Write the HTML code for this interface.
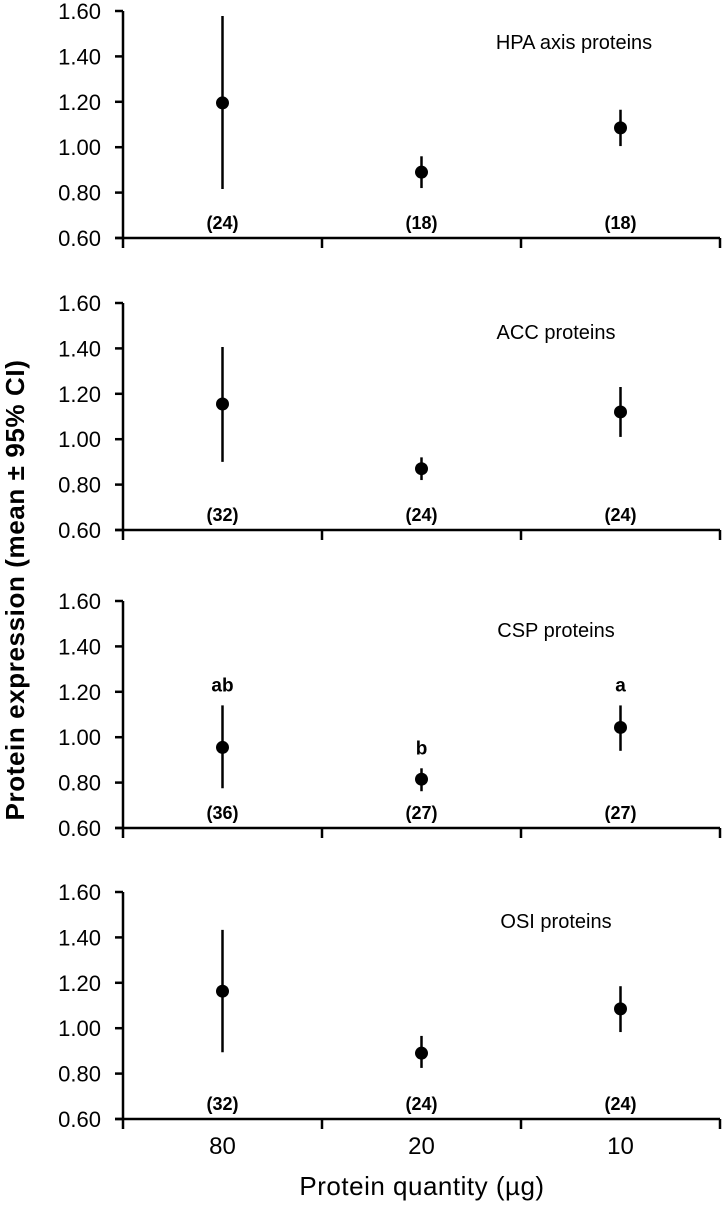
<!DOCTYPE html>
<html><head><meta charset="utf-8"><style>
html,body{margin:0;padding:0;background:#fff;}
svg{display:block;font-family:"Liberation Sans",sans-serif;}
</style></head><body>
<svg id="chart" width="722" height="1206" viewBox="0 0 722 1206"></svg>
<script>
const categories = ["80","20","10"];
const panelTitles = ["HPA axis proteins","ACC proteins","CSP proteins","OSI proteins"];
const means = [[1.195,0.89,1.085],[1.155,0.87,1.12],[0.955,0.815,1.043],[1.163,0.89,1.085]];
const lowers = [[0.816,0.82,1.005],[0.90,0.82,1.01],[0.775,0.762,0.94],[0.894,0.825,0.983]];
const uppers = [[1.578,0.96,1.165],[1.406,0.92,1.23],[1.14,0.863,1.14],[1.433,0.966,1.185]];
const counts = [["(24)","(18)","(18)"],["(32)","(24)","(24)"],["(36)","(27)","(27)"],["(32)","(24)","(24)"]];
const letters = [["","",""],["","",""],["ab","b","a"],["","",""]];
const yTicks = [0.6,0.8,1.0,1.2,1.4,1.6];

const NS="http://www.w3.org/2000/svg";
const svg=document.getElementById('chart');
const axisX=123, plotRight=720, bottoms=[238,530,828,1119], pxPerUnit=227;
const catW=(plotRight-axisX)/categories.length;
function xPos(i){return axisX+catW*(i+0.5);}
function yPos(p,v){return bottoms[p]-(v-0.6)*pxPerUnit;}
function mk(tag,attrs,parent){const e=document.createElementNS(NS,tag);for(const k in attrs)e.setAttribute(k,attrs[k]);(parent||svg).appendChild(e);return e;}

for(let p=0;p<4;p++){
  const g=mk('g',{});
  
  
  const b=bottoms[p];
  const ya=mk('line',{x1:axisX,y1:yPos(p,1.6),x2:axisX,y2:b+10,stroke:'#000','stroke-width':2.5},g);
  
  
  const xa=mk('line',{x1:axisX-8,y1:b,x2:plotRight,y2:b,stroke:'#000','stroke-width':2.5},g);
  
  
  for(let k=1;k<=categories.length;k++){
    const tx=axisX+catW*k;
    const t=mk('line',{x1:tx,y1:b,x2:tx,y2:b+10,stroke:'#000','stroke-width':2.5},g);
    
    
  }
  yTicks.forEach(v=>{
    const y=yPos(p,v);
    const t=mk('line',{x1:axisX-8,y1:y,x2:axisX,y2:y,stroke:'#000','stroke-width':2.5},g);
    
    
    const l=mk('text',{x:101,y:y+8,'text-anchor':'end','font-size':22},g);
    l.textContent=v.toFixed(2);
    
    
  });
  const tt=mk('text',{x:p==0?574:556,y:yPos(p,1.6)+(p==0?38:36),'text-anchor':'middle','font-size':20},g);
  tt.textContent=panelTitles[p];
  
  
  categories.forEach((c,i)=>{
    const x=xPos(i);
    const eb=mk('line',{x1:x,y1:yPos(p,uppers[p][i]),x2:x,y2:yPos(p,lowers[p][i]),stroke:'#000','stroke-width':2.5},g);
    
    
    const pt=mk('circle',{cx:x,cy:yPos(p,means[p][i]),r:6.5,fill:'#000'},g);
    
    
    const n=mk('text',{x:x,y:b-9,'text-anchor':'middle','font-size':18,'font-weight':'bold'},g);
    n.textContent=counts[p][i];
    
    
    if(letters[p][i]){
      const L=mk('text',{x:x,y:yPos(p,uppers[p][i])-14,'text-anchor':'middle','font-size':19,'font-weight':'bold'},g);
      L.textContent=letters[p][i];
      
      
    }
  });
}
categories.forEach((c,i)=>{
  const t=mk('text',{x:xPos(i),y:1154,'text-anchor':'middle','font-size':24});
  t.textContent=c;
  
  
});
const xt=mk('text',{x:422,y:1195,'text-anchor':'middle','font-size':26,'letter-spacing':'0.5'});
xt.textContent='Protein quantity (µg)';


const yt=mk('text',{x:0,y:0,'text-anchor':'middle','font-size':26,'font-weight':'bold','letter-spacing':'0.6',transform:'translate(24,590) rotate(-90)'});
yt.textContent='Protein expression (mean ± 95% CI)';


</script>
</body></html>
